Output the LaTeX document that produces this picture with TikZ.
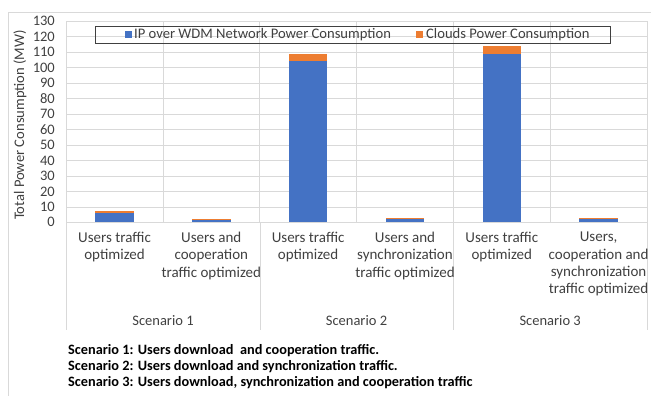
\documentclass[tikz,border=0pt]{standalone}
\usepackage{fontspec}
\setmainfont{Carlito}
\definecolor{ipblue}{HTML}{4472C4}
\definecolor{cloudorange}{HTML}{ED7D31}
\definecolor{gridgray}{HTML}{D9D9D9}
\definecolor{labeltext}{HTML}{404040}
% stacked bar: centre, IP over WDM value, clouds value
\newcommand{\stackbar}[3]{%
  \fill[ipblue] (#1-19.3,0) rectangle (#1+19.3,#2);
  \fill[cloudorange] (#1-19.3,#2) rectangle (#1+19.3,#2+#3);}

\begin{document}
\begin{tikzpicture}[x=1pt, y=-1pt,
  ticklabel/.style={anchor=east, inner sep=0pt, text=labeltext, font=\fontsize{14.5}{16}\selectfont},
  catlabel/.style={anchor=north, inner sep=0pt, align=center, text=labeltext, font=\fontsize{15}{17.3}\selectfont},
  legendtext/.style={anchor=west, inner sep=0pt, text=labeltext, font=\fontsize{14.6}{16}\selectfont}]
  \useasboundingbox (0,0) rectangle (651,396);
  \draw[gridgray] (8,396) -- (8,12.7) -- (651,12.7);
  % plot area, values in MW
  \begin{scope}[shift={(0,222.3)}, y=1.547pt]
    \foreach \v in {0,10,...,130} {
      \draw[gridgray] (66,\v) -- (647,\v);
      \node[ticklabel] (t\v) at (55,\v) {\v};
    }
    \foreach \i in {0,...,6} \draw[gridgray] ({66+96.83*\i},0) -- ({66+96.83*\i},130);
    \foreach \xx in {66,259.7,453.3,647} \draw[gridgray] (\xx,0) -- (\xx,-69.6);
    \stackbar{114.5}{6.2}{1.1}
    \stackbar{211.3}{1.5}{0.9}
    \stackbar{308.1}{104}{4.8}
    \stackbar{405}{2.8}{0.2}
    \stackbar{501.8}{109}{4.8}
    \stackbar{598.6}{2.8}{0.2}
  \end{scope}
  \node[rotate=90, text=labeltext, font=\fontsize{14.6}{16}\selectfont] (ytitle) at (20,125) {Total Power Consumption (MW)};
  % legend
  \node[draw=black!75, anchor=north west, minimum width=515pt, minimum height=17.3pt, inner sep=0pt] (legend) at (95,26) {};
  \fill[ipblue] (124.5,31.2) rectangle (131.5,38.2);
  \node[legendtext] (legip) at (134,34.6) {IP over WDM Network Power Consumption};
  \fill[cloudorange] (415.5,31.2) rectangle (422.5,38.2);
  \node[legendtext] (legcloud) at (426,34.6) {Clouds Power Consumption};
  % categories
  \node[catlabel] (c1) at (114.5,232) {Users traffic\\optimized};
  \node[catlabel] (c2) at (211.3,232) {Users and\\cooperation\\traffic optimized};
  \node[catlabel] (c3) at (308.1,232) {Users traffic\\optimized};
  \node[catlabel] (c4) at (405,232) {Users and\\synchronization\\traffic optimized};
  \node[catlabel] (c5) at (501.8,232) {Users traffic\\optimized};
  \node[catlabel] (c6) at (598.6,232) {Users,\\cooperation and\\synchronization\\traffic optimized};
  \node[text=labeltext, font=\fontsize{14.5}{16}\selectfont] (s1) at (163,320.7) {Scenario 1};
  \node[text=labeltext, font=\fontsize{14.5}{16}\selectfont] (s2) at (356.5,320.7) {Scenario 2};
  \node[text=labeltext, font=\fontsize{14.5}{16}\selectfont] (s3) at (550.2,320.7) {Scenario 3};
  % notes under the chart
  \node[anchor=north west, inner sep=0pt, align=left, font=\bfseries\fontsize{14.3}{16}\selectfont] (notes) at (68,344) {Scenario 1: Users download \ and cooperation traffic.\\
    Scenario 2: Users download and synchronization traffic.\\
    Scenario 3: Users download, synchronization and cooperation traffic};
\end{tikzpicture}
\end{document}
